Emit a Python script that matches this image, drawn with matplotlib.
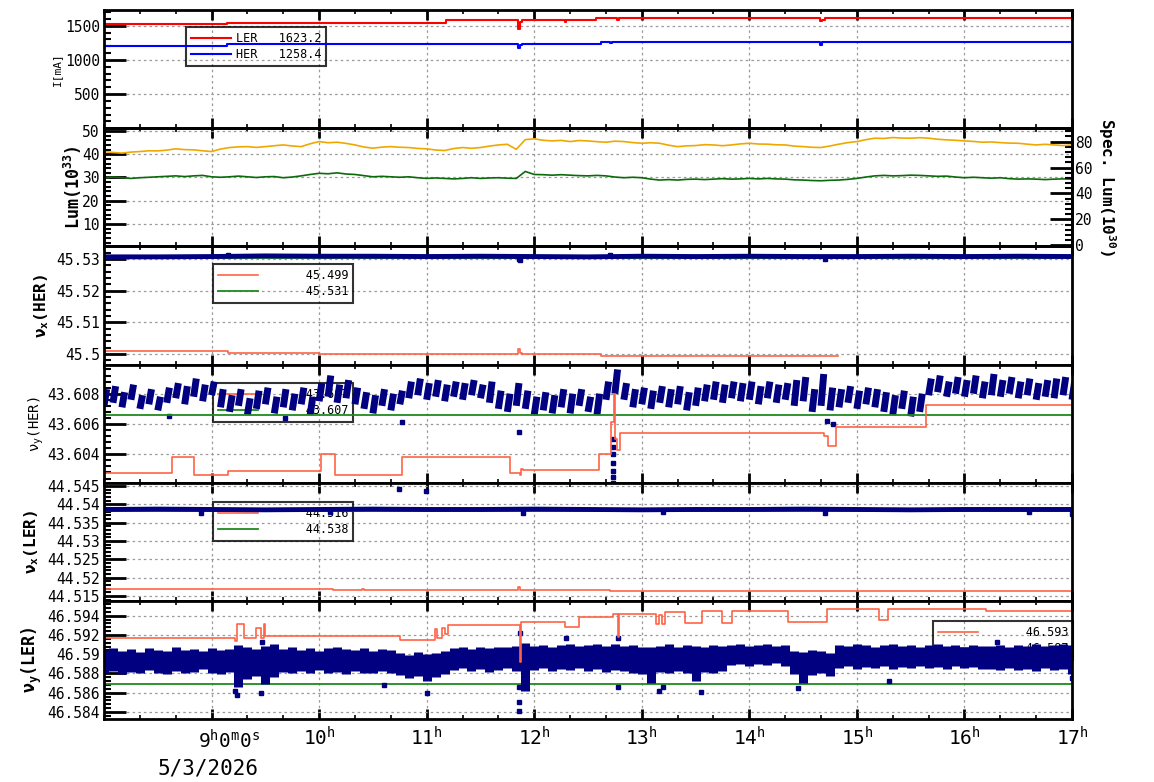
import numpy as np
import matplotlib
matplotlib.use('Agg')
import matplotlib.pyplot as plt
from matplotlib.ticker import FixedLocator, MultipleLocator, AutoMinorLocator, FuncFormatter

plt.rcParams['font.family'] = 'DejaVu Sans Mono'
plt.rcParams['mathtext.fontset'] = 'custom'
plt.rcParams['mathtext.rm'] = 'DejaVu Sans Mono'
plt.rcParams['mathtext.it'] = 'DejaVu Sans Mono'
plt.rcParams['mathtext.bf'] = 'DejaVu Sans Mono:bold'

# ---------------- data (time in hours, 5/3/2026) ----------------
hour_ticks = [9, 10, 11, 12, 13, 14, 15, 16, 17]

# beam currents (step changes)
t_ler = [8.0, 9.14, 11.18, 11.85, 11.87, 11.89, 12.29, 12.30, 12.57, 12.77, 12.79, 14.66, 14.68, 14.70, 17.0]
i_ler = [1520, 1544, 1580, 1447, 1560, 1580, 1550, 1580, 1617, 1585, 1617, 1565, 1590, 1617, 1623]
t_her = [8.0, 9.14, 11.85, 11.87, 11.89, 12.62, 12.70, 12.72, 14.66, 14.68, 17.0]
i_her = [1199, 1232, 1170, 1215, 1232, 1266, 1252, 1257, 1225, 1257, 1258]
cur_names = ['LER', 'HER']
cur_last = ['1623.2', '1258.4']

# luminosity, 5 minute samples from 8h to 17h
lum = [29.9, 30.2, 29.9, 29.6, 29.9, 30.1, 30.3, 30.5, 30.7, 30.4, 30.7, 30.9, 30.3, 30.1, 30.3, 30.6,
       30.3, 30.0, 30.3, 30.4, 29.9, 30.2, 30.7, 31.3, 31.8, 31.6, 32.0, 31.5, 31.3, 30.8, 30.3, 30.5,
       30.3, 30.1, 30.3, 29.9, 29.6, 29.8, 29.6, 29.4, 29.6, 29.9, 29.6, 29.8, 29.9, 29.7, 29.6, 32.6,
       31.3, 31.2, 31.0, 31.2, 31.0, 30.8, 30.7, 30.9, 30.7, 30.2, 29.9, 30.1, 29.9, 29.3, 28.9, 29.1,
       28.9, 29.2, 29.3, 29.1, 29.3, 29.5, 29.3, 29.4, 29.6, 29.4, 29.6, 29.4, 29.3, 29.0, 28.9, 28.7,
       28.6, 28.8, 28.9, 29.2, 29.6, 30.2, 30.7, 30.9, 30.7, 30.8, 31.0, 30.9, 30.7, 30.5, 30.6, 30.2,
       29.9, 30.1, 29.9, 29.7, 29.9, 29.5, 29.3, 29.4, 29.3, 29.1, 29.3, 29.4, 29.3]
spec_lum = [72.3, 71.6, 71.1, 71.9, 72.3, 72.9, 72.8, 73.4, 74.4, 73.8, 73.6, 72.9, 72.3, 74.2, 75.4,
            75.9, 76.1, 75.5, 76.1, 76.8, 77.4, 76.6, 76.1, 78.3, 80.0, 79.1, 79.5, 78.6, 77.4, 75.8,
            74.9, 75.7, 76.1, 75.6, 75.4, 74.7, 74.4, 73.5, 73.1, 74.6, 75.4, 74.8, 75.4, 76.5, 77.4,
            77.9, 74.0, 81.5, 82.1, 81.0, 80.5, 80.9, 80.0, 80.8, 80.5, 79.9, 79.5, 80.3, 80.0, 79.2,
            78.7, 79.1, 78.7, 77.2, 76.1, 76.7, 76.9, 77.6, 77.4, 76.8, 77.4, 78.2, 78.7, 78.1, 78.0,
            77.5, 77.4, 76.5, 76.1, 75.6, 75.4, 76.6, 78.0, 79.2, 80.0, 81.5, 82.6, 82.4, 83.1, 82.7,
            82.6, 83.0, 82.6, 81.8, 81.3, 81.0, 80.5, 80.1, 79.5, 79.7, 79.2, 78.8, 78.7, 78.0, 77.4,
            77.9, 77.4, 76.9, 77.4]

# nu_x(HER)
t_red3 = [8.0, 9.15, 10.0, 11.85, 11.87, 11.89, 12.62, 14.82]
v_red3 = [45.50085, 45.5002, 45.5000, 45.5016, 45.5003, 45.5000, 45.4994, 45.4994]
set_her_x = 45.5303
t_blue3 = [8.0, 8.5, 9.0, 9.5, 10.0, 10.5, 11.0, 11.5, 12.0, 12.5, 13.0, 13.5, 14.0, 14.5, 15.0, 15.5, 16.0, 16.5, 17.0]
v_blue3 = [45.5307, 45.5307, 45.5308, 45.5310, 45.5309, 45.5309, 45.5308, 45.5309, 45.5308, 45.5307,
           45.5309, 45.5308, 45.5309, 45.5308, 45.5308, 45.5309, 45.5308, 45.5309, 45.5308]
t_out3 = [9.15, 11.86, 11.87, 12.70, 14.70]
v_out3 = [45.5314, 45.5300, 45.5297, 45.5313, 45.5301]
leg3 = ['45.499', '45.531']

# nu_y(HER): measured band, 5 minute samples (low / high end of each streak)
lo4 = [43.6072, 43.6074, 43.6071, 43.6076, 43.6070, 43.6073, 43.6069, 43.6074, 43.6077, 43.6073,
       43.6078, 43.6075, 43.6079, 43.6071, 43.6068, 43.6072, 43.6066, 43.6070, 43.6073, 43.6067,
       43.6071, 43.6069, 43.6073, 43.6066, 43.6075, 43.6078, 43.6074, 43.6077, 43.6073, 43.6070,
       43.6067, 43.6072, 43.6069, 43.6073, 43.6077, 43.6079, 43.6076, 43.6078, 43.6075, 43.6078,
       43.6076, 43.6079, 43.6077, 43.6074, 43.6070, 43.6068, 43.6072, 43.6070, 43.6066, 43.6069,
       43.6067, 43.6071, 43.6067, 43.6072, 43.6068, 43.6066, 43.6076, 43.6080, 43.6076, 43.6071,
       43.6073, 43.6070, 43.6074, 43.6071, 43.6073, 43.6069, 43.6072, 43.6075, 43.6076, 43.6074,
       43.6077, 43.6075, 43.6076, 43.6073, 43.6077, 43.6074, 43.6076, 43.6072, 43.6075, 43.6068,
       43.6072, 43.6069, 43.6071, 43.6074, 43.6070, 43.6073, 43.6071, 43.6068, 43.6066, 43.6070,
       43.6065, 43.6068, 43.6079, 43.6081, 43.6078, 43.6080, 43.6078, 43.6080, 43.6077, 43.6079,
       43.6078, 43.6080, 43.6077, 43.6079, 43.6076, 43.6078, 43.6077, 43.6079, 43.6076]
hi4 = [43.6083, 43.6085, 43.6081, 43.6086, 43.6079, 43.6083, 43.6078, 43.6084, 43.6087, 43.6085,
       43.6090, 43.6086, 43.6088, 43.6083, 43.6079, 43.6083, 43.6077, 43.6082, 43.6084, 43.6078,
       43.6083, 43.6080, 43.6084, 43.6078, 43.6087, 43.6092, 43.6086, 43.6089, 43.6084, 43.6081,
       43.6079, 43.6083, 43.6080, 43.6082, 43.6088, 43.6090, 43.6087, 43.6089, 43.6086, 43.6088,
       43.6087, 43.6089, 43.6086, 43.6088, 43.6082, 43.6080, 43.6087, 43.6082, 43.6078, 43.6081,
       43.6079, 43.6083, 43.6080, 43.6083, 43.6078, 43.6080, 43.6088, 43.6096, 43.6087, 43.6083,
       43.6084, 43.6082, 43.6085, 43.6083, 43.6085, 43.6081, 43.6084, 43.6086, 43.6088, 43.6086,
       43.6088, 43.6087, 43.6088, 43.6085, 43.6088, 43.6086, 43.6087, 43.6089, 43.6091, 43.6083,
       43.6093, 43.6084, 43.6083, 43.6085, 43.6082, 43.6084, 43.6083, 43.6081, 43.6079, 43.6082,
       43.6078, 43.6080, 43.6090, 43.6092, 43.6088, 43.6091, 43.6089, 43.6092, 43.6088, 43.6093,
       43.6089, 43.6091, 43.6088, 43.6090, 43.6087, 43.6089, 43.6090, 43.6091, 43.6088]
t_out4 = [8.6, 9.68, 10.77, 11.86, 12.73, 12.73, 12.73, 12.73, 12.73, 12.73, 12.73, 14.72, 14.78]
v_out4 = [43.6065, 43.6064, 43.6061, 43.6055, 43.6050, 43.6045, 43.6040, 43.6034, 43.6029, 43.6025,
          43.6021, 43.6062, 43.6060]
t_red4 = [8.0, 8.635, 8.838, 9.157, 10.014, 10.148, 10.768, 11.777, 11.864, 11.88, 11.899, 12.606,
          12.652, 12.71, 12.745, 12.755, 12.768, 12.797, 14.693, 14.73, 14.762, 14.809, 15.638, 17.0]
v_red4 = [43.60275, 43.6038, 43.60261, 43.60288, 43.6040, 43.60261, 43.6038, 43.60275, 43.60261,
          43.6030, 43.60296, 43.6040, 43.60405, 43.6061, 43.6080, 43.6050, 43.6043, 43.60539,
          43.6052, 43.60455, 43.60455, 43.6058, 43.60723, 43.60723]
set_her_y = 43.6066
leg4 = ['43.607', '43.607']

# nu_x(LER)
t_red5 = [8.0, 10.13, 10.40, 10.42, 11.85, 11.87, 12.7, 17.0]
v_red5 = [44.5168, 44.5166, 44.5168, 44.5166, 44.5174, 44.5166, 44.5165, 44.5165]
set_ler_x = 44.5381
v_blue5 = [44.5386, 44.5387, 44.5386, 44.5385, 44.5386, 44.5387, 44.5386, 44.5386, 44.5387, 44.5386,
           44.5385, 44.5386, 44.5386, 44.5387, 44.5386, 44.5385, 44.5386, 44.5386, 44.5386]
t_out5 = [8.9, 10.1, 10.74, 10.99, 11.9, 13.2, 14.7, 16.6, 17.0]
v_out5 = [44.5377, 44.5378, 44.5442, 44.5437, 44.5376, 44.5378, 44.5377, 44.5378, 44.5374]
leg5 = ['44.516', '44.538']

# nu_y(LER): measured band, 5 minute samples
lo6 = [46.5881, 46.5883, 46.5879, 46.5882, 46.5880, 46.5884, 46.5881, 46.5879, 46.5883, 46.5880,
       46.5882, 46.5885, 46.5881, 46.5879, 46.5882,
       46.5866, 46.5874, 46.5877, 46.5869, 46.5876,
       46.5882, 46.5880, 46.5883, 46.5881, 46.5884, 46.5880, 46.5882, 46.5879, 46.5883, 46.5881,
       46.5880, 46.5883, 46.5881,
       46.5878, 46.5875, 46.5877, 46.5872, 46.5876, 46.5879,
       46.5884, 46.5886, 46.5883, 46.5885, 46.5882, 46.5884, 46.5886, 46.5883,
       46.5862,
       46.5884, 46.5886, 46.5883, 46.5885, 46.5884, 46.5886, 46.5883, 46.5885, 46.5882, 46.5884,
       46.5883, 46.5881, 46.5879, 46.5870, 46.5882, 46.5880, 46.5883, 46.5881, 46.5872, 46.5882,
       46.5880, 46.5883,
       46.5889, 46.5890, 46.5888, 46.5890, 46.5889, 46.5891, 46.5888,
       46.5879, 46.5870, 46.5878, 46.5880, 46.5877,
       46.5886, 46.5888, 46.5885, 46.5887, 46.5886, 46.5888, 46.5885, 46.5887, 46.5886, 46.5888,
       46.5886, 46.5887, 46.5885, 46.5888, 46.5886, 46.5887, 46.5885,
       46.5885, 46.5884, 46.5886, 46.5884, 46.5885, 46.5883, 46.5886, 46.5884, 46.5885, 46.5879]
hi6 = [46.5904, 46.5906, 46.5903, 46.5905, 46.5902, 46.5906, 46.5904, 46.5903, 46.5907, 46.5904,
       46.5905, 46.5903, 46.5906, 46.5904, 46.5905,
       46.5910, 46.5907, 46.5905, 46.5909, 46.5911,
       46.5905, 46.5907, 46.5904, 46.5906, 46.5903, 46.5906, 46.5908, 46.5905, 46.5904, 46.5906,
       46.5903, 46.5905, 46.5904,
       46.5901, 46.5899, 46.5902, 46.5900, 46.5901, 46.5903,
       46.5906, 46.5907, 46.5905, 46.5907, 46.5906, 46.5908, 46.5907, 46.5909,
       46.5912,
       46.5909, 46.5910, 46.5908, 46.5910, 46.5911, 46.5909, 46.5910, 46.5911, 46.5909, 46.5911,
       46.5909, 46.5910, 46.5908, 46.5907, 46.5909, 46.5911, 46.5908, 46.5910, 46.5909, 46.5908,
       46.5910, 46.5909,
       46.5910, 46.5911, 46.5909, 46.5910, 46.5911, 46.5909, 46.5910,
       46.5903, 46.5902, 46.5904, 46.5903, 46.5901,
       46.5910, 46.5909, 46.5911, 46.5910, 46.5908, 46.5910, 46.5911, 46.5909, 46.5910, 46.5908,
       46.5910, 46.5911, 46.5909, 46.5910, 46.5908, 46.5910, 46.5909,
       46.5909, 46.5910, 46.5908, 46.5910, 46.5909, 46.5911, 46.5909, 46.5910, 46.5911, 46.5910]
t_out6 = [9.22, 9.24, 9.46, 9.47, 10.6, 11.0, 11.86, 11.86, 11.86, 11.87, 12.3, 12.78, 12.78, 13.16,
          13.2, 13.55, 14.45, 15.3, 16.3, 17.0]
v_out6 = [46.5862, 46.5858, 46.5860, 46.5913, 46.5868, 46.5860, 46.5841, 46.5850, 46.5866, 46.5922,
          46.5917, 46.5917, 46.5866, 46.5862, 46.5866, 46.5861, 46.5865, 46.5872, 46.5913, 46.5875]
t_red6 = [8.0, 9.214, 9.232, 9.301, 9.417, 9.464, 9.487, 9.499, 10.751, 11.081, 11.099, 11.145, 11.168,
          11.197, 11.864, 11.876, 11.887, 12.287, 12.414, 12.733, 12.775, 12.79, 13.128, 13.157, 13.186,
          13.214, 13.4, 13.562, 13.748, 13.835, 14.362, 14.722, 15.203, 15.29, 16.2, 17.0]
v_red6 = [46.59173, 46.59137, 46.59311, 46.59173, 46.59276, 46.59173, 46.59318, 46.59193, 46.59148,
          46.5926, 46.59173, 46.59276, 46.59207, 46.59304, 46.58924, 46.5934, 46.59332, 46.59287,
          46.59386, 46.5942, 46.5918, 46.59421, 46.5931, 46.5941, 46.5931, 46.59442, 46.59321,
          46.59449, 46.59321, 46.59449, 46.59338, 46.59466, 46.5936, 46.59466, 46.59452, 46.59452]
set_ler_y = 46.58692
leg6 = ['46.593', '46.587']

# ---------------- styling ----------------
RED = '#ff6347'
GREEN = '#1f8a1f'
NAVY = '#000080'
fmt = FuncFormatter(lambda v, p: '%g' % round(v, 6))

fig = plt.figure(figsize=(11.54, 7.82), dpi=100)
edges = [10, 128.2, 246.4, 364.6, 482.8, 601, 719.2]
L, W = 104 / 1154, 968 / 1154
axes = []
for i in range(6):
    b = 1 - edges[i + 1] / 782
    h = (edges[i + 1] - edges[i]) / 782
    axes.append(fig.add_axes([L, b, W, h]))

ylims = [(1, 1730), (0.37, 51.2), (45.49665, 45.534), (43.60212, 43.60992), (44.51364, 44.54587), (46.58325, 46.59553)]
ysteps = [500, 10, 0.01, 0.002, 0.005, 0.002]

for ax, yl, ys in zip(axes, ylims, ysteps):
    ax.set_xlim(8, 17)
    ax.set_ylim(*yl)
    ax.xaxis.set_major_locator(FixedLocator(hour_ticks))
    ax.xaxis.set_minor_locator(MultipleLocator(1 / 3))
    ax.yaxis.set_major_locator(MultipleLocator(ys))
    ax.yaxis.set_minor_locator(AutoMinorLocator(5))
    ax.yaxis.set_major_formatter(fmt)
    ax.tick_params(axis='x', which='both', direction='in', top=True, bottom=True, labelbottom=False)
    ax.tick_params(axis='x', which='major', length=7, width=2)
    ax.tick_params(axis='x', which='minor', length=3, width=1.2)
    ax.tick_params(axis='y', which='both', direction='in', left=True, right=False)
    ax.tick_params(axis='y', which='major', length=16, width=2, labelsize=10.5, pad=3)
    ax.tick_params(axis='y', which='minor', length=5, width=1.5)
    ax.grid(True, which='major', color='#999999', ls=(0, (2, 2.5)), lw=0.9)
    ax.set_axisbelow(True)
    for s in ax.spines.values():
        s.set_linewidth(2)


def tune_legend(ax, handles, labels, x, y):
    leg = ax.legend(handles, labels, loc='upper left', bbox_to_anchor=(x, y), borderaxespad=0,
                    prop={'family': 'DejaVu Sans Mono', 'size': 8.5}, handlelength=3.4,
                    handletextpad=0.4, borderpad=0.4, labelspacing=0.3, fancybox=False,
                    facecolor='none', edgecolor='black', framealpha=None)
    leg.get_frame().set_linewidth(1.5)
    leg.set_zorder(1)
    return leg


# panel 1: currents
ax = axes[0]
l1, = ax.plot(t_ler, i_ler, drawstyle='steps-post', color='red', lw=1.5)
l2, = ax.plot(t_her, i_her, drawstyle='steps-post', color='blue', lw=1.5)
tune_legend(ax, [l1, l2], [f'{n:<6}{v:>6}' for n, v in zip(cur_names, cur_last)], 0.0847, 0.856)
ax.text(-0.0486, 0.5, 'I[mA]', transform=ax.transAxes, rotation=90, ha='center', va='center', fontsize=8)

# panel 2: luminosity
ax = axes[1]
t_lum = 8 + np.arange(len(lum)) * 9 / (len(lum) - 1)
t_spec = 8 + np.arange(len(spec_lum)) * 9 / (len(spec_lum) - 1)
ax.plot(t_lum, lum, color='#0b6b0b', lw=1.2)
ax.text(-0.032, 0.5, r'Lum(10$^{\mathbf{33}}$)', transform=ax.transAxes, rotation=90,
        ha='center', va='center', fontsize=12, fontweight='bold')
ax2 = ax.twinx()
ax2.set_ylim(-0.8, 90.3)
ax2.plot(t_spec, spec_lum, color='#f0a800', lw=1.2)
ax2.yaxis.set_major_locator(MultipleLocator(20))
ax2.yaxis.set_minor_locator(AutoMinorLocator(5))
ax2.tick_params(axis='y', which='both', direction='in', right=True, left=False)
ax2.tick_params(axis='y', which='major', length=16, width=2, labelsize=10.5, pad=2)
ax2.tick_params(axis='y', which='minor', length=5, width=1.5)
for s in ax2.spines.values():
    s.set_linewidth(2)
fig.text(1107 / 1154, 1 - 187.3 / 782, r'Spec. Lum(10$^{\mathbf{30}}$)', rotation=-90,
         ha='center', va='center', fontsize=11.5, fontweight='bold')

# panel 3: nu_x(HER)
ax = axes[2]
r3, = ax.plot(t_red3, v_red3, drawstyle='steps-post', color=RED, lw=1.2)
g3 = ax.axhline(set_her_x, color=GREEN, lw=1.3)
ax.plot(t_blue3, v_blue3, color=NAVY, lw=3.5)
ax.plot(t_out3, v_out3, 's', color=NAVY, ms=3)
tune_legend(ax, [r3, g3], [f'{"":6}{v}' for v in leg3], 0.1126, 0.851)
ax.text(-0.0645, 0.5, r'ν$_\mathbf{x}$(HER)', transform=ax.transAxes, rotation=90,
        ha='center', va='center', fontsize=11.5, fontweight='bold')

# panel 4: nu_y(HER)
ax = axes[3]
t4 = 8 + np.arange(len(lo4)) * 9 / (len(lo4) - 1)
r4, = ax.plot(t_red4, v_red4, drawstyle='steps-post', color=RED, lw=1.2, zorder=2.2)
g4 = ax.axhline(set_her_y, color=GREEN, lw=1.3, zorder=2.1)
for t, a, b in zip(t4, lo4, hi4):
    ax.plot([t, t + 0.025], [a, b], color=NAVY, lw=5, solid_capstyle='butt', zorder=2)
ax.plot(t_out4, v_out4, 's', color=NAVY, ms=3)
tune_legend(ax, [r4, g4], [f'{"":6}{v}' for v in leg4], 0.1126, 0.844)
ax.text(-0.070, 0.5, r'ν$_\mathrm{y}$(HER)', transform=ax.transAxes, rotation=90,
        ha='center', va='center', fontsize=10)

# panel 5: nu_x(LER)
ax = axes[4]
t5 = 8 + np.arange(len(v_blue5)) * 9 / (len(v_blue5) - 1)
r5, = ax.plot(t_red5, v_red5, drawstyle='steps-post', color=RED, lw=1.2)
g5 = ax.axhline(set_ler_x, color=GREEN, lw=1.3)
ax.plot(t5, v_blue5, color=NAVY, lw=3.5)
ax.plot(t_out5, v_out5, 's', color=NAVY, ms=3)
tune_legend(ax, [r5, g5], [f'{"":6}{v}' for v in leg5], 0.1126, 0.838)
ax.text(-0.075, 0.5, r'ν$_\mathbf{x}$(LER)', transform=ax.transAxes, rotation=90,
        ha='center', va='center', fontsize=11.5, fontweight='bold')

# panel 6: nu_y(LER)
ax = axes[5]
t6 = 8 + np.arange(len(lo6)) * 9 / (len(lo6) - 1)
r6, = ax.plot(t_red6, v_red6, drawstyle='steps-post', color=RED, lw=1.2, zorder=2.2)
g6 = ax.axhline(set_ler_y, color=GREEN, lw=1.3)
ax.vlines(t6, lo6, hi6, color=NAVY, lw=6.5, zorder=2)
ax.plot(t_out6, v_out6, 's', color=NAVY, ms=3)
tune_legend(ax, [r6, g6], [f'{"":6}{v}' for v in leg6], 0.8564, 0.831)
ax.text(-0.075, 0.5, r'ν$_\mathbf{y}$(LER)', transform=ax.transAxes, rotation=90,
        ha='center', va='center', fontsize=12, fontweight='bold')

# x tick labels on the bottom panel
ax.tick_params(axis='x', which='major', labelbottom=True, labelsize=14, pad=5)
ax.set_xticklabels([''] + [f'{h}$^{{\\rm h}}$' for h in hour_ticks[1:]])
ax.annotate(r'9$^{\rm h}$0$^{\rm m}$0$^{\rm s}$', xy=(9, 0), xycoords=('data', 'axes fraction'),
            xytext=(-10, -7), textcoords='offset points', ha='left', va='top', fontsize=14)
fig.text(208 / 1154, 1 - 768 / 782, '5/3/2026', ha='center', va='center', fontsize=15)

fig.savefig('out.png', dpi=100)
